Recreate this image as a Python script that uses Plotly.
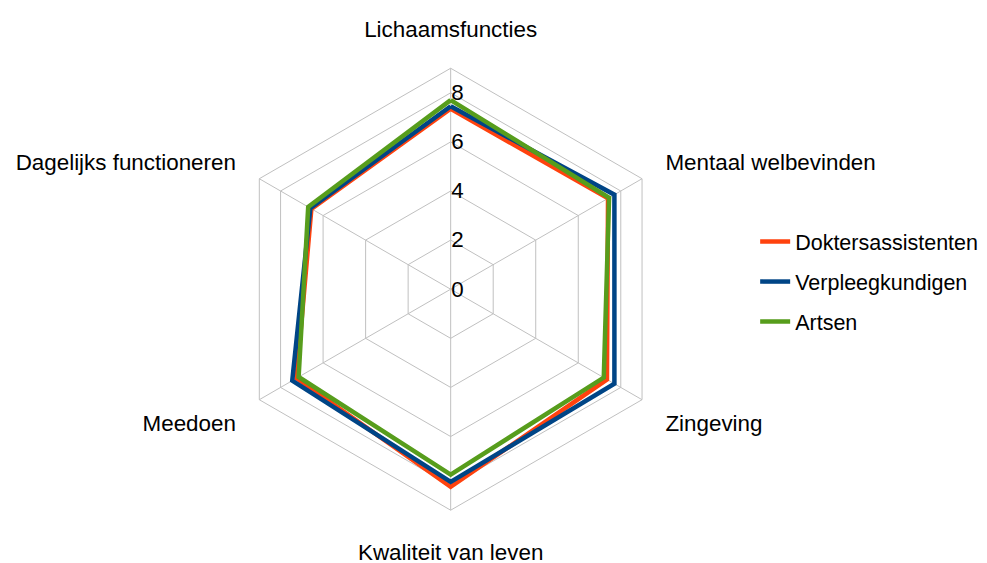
import plotly.graph_objects as go

categories = ["Lichaamsfuncties", "Mentaal welbevinden", "Zingeving",
              "Kwaliteit van leven", "Meedoen", "Dagelijks functioneren"]
doktersassistenten = [7.35, 7.4, 7.35, 8.05, 7.25, 6.55]
verpleegkundigen = [7.45, 7.7, 7.7, 7.85, 7.45, 6.6]
artsen = [7.7, 7.45, 7.2, 7.55, 7.15, 6.7]
radial_ticks = [0, 2, 4, 6, 8]

series = [("Doktersassistenten", doktersassistenten, "#ff420e"),
          ("Verpleegkundigen", verpleegkundigen, "#004586"),
          ("Artsen", artsen, "#579d1c")]

fig = go.Figure()
for name, vals, color in series:
    fig.add_trace(go.Scatterpolar(
        r=vals + vals[:1], theta=categories + categories[:1],
        mode="lines", name=name, legendgroup=name,
        line=dict(color=color, width=4.5),
    ))

font = dict(family="Liberation Sans, Arial, sans-serif", size=22.4, color="#000000")
legend_font = dict(family="Liberation Sans, Arial, sans-serif", size=21.5, color="#000000")
fig.update_layout(
    width=987, height=563,
    margin=dict(l=0, r=0, t=0, b=0),
    paper_bgcolor="white", plot_bgcolor="white",
    font=font,
    polar=dict(
        domain=dict(x=[0.224, 0.673], y=[0.108, 0.893]),
        gridshape="linear",
        bgcolor="white",
        radialaxis=dict(range=[0, 9], tickvals=radial_ticks, angle=90,
                        showline=False, gridcolor="#c0c0c0", gridwidth=1,
                        ticks="", tickfont=font, tickangle=90, side="clockwise"),
        angularaxis=dict(direction="clockwise", rotation=90,
                         linecolor="#c0c0c0", gridcolor="#c0c0c0",
                         ticks="outside", ticklen=22, tickcolor="rgba(0,0,0,0)",
                         tickfont=font),
    ),
    legend=dict(x=0.757, y=0.514, xanchor="left", yanchor="middle",
                traceorder="grouped", tracegroupgap=9, font=legend_font),
)
fig.write_html("out.html")
